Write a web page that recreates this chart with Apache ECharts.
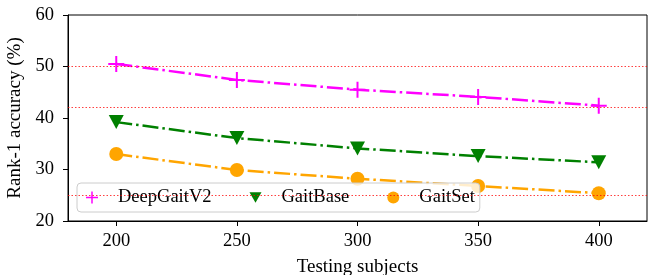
<!DOCTYPE html>
<html>
<head>
<meta charset="utf-8">
<script src="https://cdn.jsdelivr.net/npm/echarts@6/dist/echarts.min.js"></script>
<style>
  html, body { margin: 0; padding: 0; background: #fff; }
  #chart { width: 648px; height: 275px; }
</style>
</head>
<body>
<div id="chart"></div>
<script>
// testing subjects (x) and rank-1 accuracy per method
const subjects = [200, 250, 300, 350, 400]
const deepGaitV2 = [50.5, 47.4, 45.5, 44.1, 42.4]
const gaitBase = [39.2, 36.1, 34.1, 32.6, 31.4]
const gaitSet = [33.0, 29.9, 28.2, 26.8, 25.4]
const refLines = [50, 42, 25]
const xTicks = [200, 250, 300, 350, 400]

const plusPath = 'path://M7,0 H9 V7 H16 V9 H9 V16 H7 V9 H0 V7 H7 Z'
const triDownPath = 'path://M0,0 L16,0 L8,14 Z'
const font = "'Liberation Serif', 'Times New Roman', serif"

const myChart = echarts.init(document.getElementById('chart'))

const pairs = arr => subjects.map((x, i) => [x, arr[i]])
const dashDot = [16, 4, 2.5, 4]

const option = {
  animation: false,
  textStyle: { fontFamily: font },
  grid: {
    left: 68,
    top: 15,
    right: 1,
    bottom: 54,
    outerBoundsMode: 'none',
    show: true,
    borderColor: '#000',
    borderWidth: 1
  },
  legend: {
    left: 77,
    top: 183,
    padding: [5, 5, 5, 9],
    itemWidth: 12,
    itemHeight: 12,
    itemGap: 38,
    backgroundColor: 'rgba(255,255,255,0.8)',
    borderColor: '#cccccc',
    borderWidth: 1,
    borderRadius: 4,
    textStyle: { fontFamily: font, fontSize: 18.5, color: '#000', padding: [0, 0, 0, 15] },
    data: [
      { name: 'DeepGaitV2', icon: plusPath },
      { name: 'GaitBase', icon: triDownPath },
      { name: 'GaitSet', icon: 'circle' }
    ]
  },
  xAxis: {
    type: 'value',
    min: 180,
    max: 420,
    name: 'Testing subjects',
    nameLocation: 'middle',
    nameGap: 37,
    nameTextStyle: { fontFamily: font, fontSize: 19, color: '#000' },
    axisLine: { show: true, lineStyle: { color: '#000', width: 1 } },
    axisTick: { show: true, length: 5, customValues: xTicks, lineStyle: { color: '#000' } },
    axisLabel: { customValues: xTicks, margin: 11, fontFamily: font, fontSize: 18.5, color: '#000' },
    splitLine: { show: false }
  },
  yAxis: {
    type: 'value',
    min: 20,
    max: 60,
    interval: 10,
    name: 'Rank-1 accuracy (%)',
    nameLocation: 'middle',
    nameGap: 43,
    nameTextStyle: { fontFamily: font, fontSize: 19, color: '#000' },
    axisLine: { show: true, lineStyle: { color: '#000', width: 1 } },
    axisTick: { show: true, length: 5, lineStyle: { color: '#000' } },
    axisLabel: { margin: 14, fontFamily: font, fontSize: 18.5, color: '#000' },
    splitLine: { show: false }
  },
  series: [
    {
      name: 'DeepGaitV2',
      type: 'line',
      data: pairs(deepGaitV2),
      symbol: plusPath,
      symbolSize: 16,
      lineStyle: { color: '#ff00ff', width: 2.5, type: dashDot },
      itemStyle: { color: '#ff00ff' },
      z: 3,
      markLine: {
        silent: true,
        symbol: 'none',
        label: { show: false },
        lineStyle: { color: 'rgba(255,0,0,0.75)', width: 1, type: [1.5, 2] },
        data: refLines.map(v => ({ yAxis: v }))
      }
    },
    {
      name: 'GaitBase',
      type: 'line',
      data: pairs(gaitBase),
      symbol: triDownPath,
      symbolSize: [15, 14],
      lineStyle: { color: '#008000', width: 2.5, type: dashDot },
      itemStyle: { color: '#008000' },
      z: 3
    },
    {
      name: 'GaitSet',
      type: 'line',
      data: pairs(gaitSet),
      symbol: 'circle',
      symbolSize: 14,
      lineStyle: { color: '#ffa500', width: 2.5, type: dashDot },
      itemStyle: { color: '#ffa500' },
      z: 3
    }
  ]
}

myChart.setOption(option)
</script>
</body>
</html>
